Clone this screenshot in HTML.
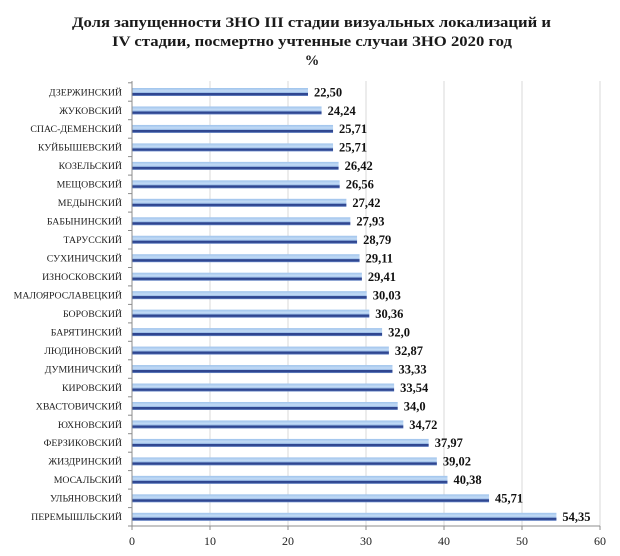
<!DOCTYPE html>
<html><head><meta charset="utf-8"><style>
html,body{margin:0;padding:0;background:#fff;}
svg{display:block;}
.t{font-family:"Liberation Serif",serif;font-weight:bold;font-size:14.5px;fill:#1a1a1a;}
.c{font-family:"Liberation Serif",serif;font-size:9.8px;fill:#222;text-anchor:end;}
.v{font-family:"Liberation Serif",serif;font-weight:bold;font-size:12.5px;fill:#111;}
.x{font-family:"Liberation Serif",serif;font-size:12px;fill:#222;text-anchor:middle;}
</style></head><body>
<svg width="620" height="556" viewBox="0 0 620 556" xmlns="http://www.w3.org/2000/svg">
<defs>
<linearGradient id="g" x1="0" y1="0" x2="0" y2="1">
<stop offset="0" stop-color="#9fc3ec"/>
<stop offset="0.4" stop-color="#c4dcf6"/>
<stop offset="0.6" stop-color="#95b8e5"/>
<stop offset="0.64" stop-color="#2f4690"/>
<stop offset="0.84" stop-color="#2f4690"/>
<stop offset="1" stop-color="#7495d3"/>
</linearGradient>
</defs>
<rect width="620" height="556" fill="#fff"/>
<text class="t" x="72" y="27" textLength="479" lengthAdjust="spacingAndGlyphs">Доля запущенности ЗНО III стадии визуальных локализаций и</text>
<text class="t" x="112" y="46" textLength="400" lengthAdjust="spacingAndGlyphs">IV стадии, посмертно учтенные случаи ЗНО 2020 год</text>
<text class="t" x="312" y="65" text-anchor="middle">%</text>

<g stroke="#d9d9d9" stroke-width="1">
<line x1="210" y1="81" x2="210" y2="526"/>
<line x1="288" y1="81" x2="288" y2="526"/>
<line x1="366" y1="81" x2="366" y2="526"/>
<line x1="444" y1="81" x2="444" y2="526"/>
<line x1="522" y1="81" x2="522" y2="526"/>
<line x1="600" y1="81" x2="600" y2="526"/>
</g>
<g stroke="#8c8c8c" stroke-width="1">
<line x1="132" y1="81" x2="132" y2="526"/>
<line x1="132" y1="526" x2="600" y2="526"/>
<line x1="132" y1="526" x2="132" y2="530"/>
<line x1="210" y1="526" x2="210" y2="530"/>
<line x1="288" y1="526" x2="288" y2="530"/>
<line x1="366" y1="526" x2="366" y2="530"/>
<line x1="444" y1="526" x2="444" y2="530"/>
<line x1="522" y1="526" x2="522" y2="530"/>
<line x1="600" y1="526" x2="600" y2="530"/>
<line x1="128" y1="82.8" x2="132" y2="82.8"/>
<line x1="128" y1="101.2" x2="132" y2="101.2"/>
<line x1="128" y1="119.7" x2="132" y2="119.7"/>
<line x1="128" y1="138.2" x2="132" y2="138.2"/>
<line x1="128" y1="156.6" x2="132" y2="156.6"/>
<line x1="128" y1="175.1" x2="132" y2="175.1"/>
<line x1="128" y1="193.6" x2="132" y2="193.6"/>
<line x1="128" y1="212.1" x2="132" y2="212.1"/>
<line x1="128" y1="230.5" x2="132" y2="230.5"/>
<line x1="128" y1="249.0" x2="132" y2="249.0"/>
<line x1="128" y1="267.5" x2="132" y2="267.5"/>
<line x1="128" y1="285.9" x2="132" y2="285.9"/>
<line x1="128" y1="304.4" x2="132" y2="304.4"/>
<line x1="128" y1="322.9" x2="132" y2="322.9"/>
<line x1="128" y1="341.3" x2="132" y2="341.3"/>
<line x1="128" y1="359.8" x2="132" y2="359.8"/>
<line x1="128" y1="378.3" x2="132" y2="378.3"/>
<line x1="128" y1="396.8" x2="132" y2="396.8"/>
<line x1="128" y1="415.2" x2="132" y2="415.2"/>
<line x1="128" y1="433.7" x2="132" y2="433.7"/>
<line x1="128" y1="452.2" x2="132" y2="452.2"/>
<line x1="128" y1="470.6" x2="132" y2="470.6"/>
<line x1="128" y1="489.1" x2="132" y2="489.1"/>
<line x1="128" y1="507.6" x2="132" y2="507.6"/>
<line x1="128" y1="526" x2="132" y2="526"/>
</g>

<g fill="url(#g)">
<rect x="132.5" y="88.0" width="175.5" height="8"/>
<rect x="132.5" y="106.47" width="189.07" height="8"/>
<rect x="132.5" y="124.94" width="200.54" height="8"/>
<rect x="132.5" y="143.41" width="200.54" height="8"/>
<rect x="132.5" y="161.88" width="206.08" height="8"/>
<rect x="132.5" y="180.35" width="207.17" height="8"/>
<rect x="132.5" y="198.82" width="213.88" height="8"/>
<rect x="132.5" y="217.29" width="217.85" height="8"/>
<rect x="132.5" y="235.76" width="224.56" height="8"/>
<rect x="132.5" y="254.23" width="227.06" height="8"/>
<rect x="132.5" y="272.7" width="229.4" height="8"/>
<rect x="132.5" y="291.17" width="234.23" height="8"/>
<rect x="132.5" y="309.64" width="236.81" height="8"/>
<rect x="132.5" y="328.11" width="249.6" height="8"/>
<rect x="132.5" y="346.58" width="256.39" height="8"/>
<rect x="132.5" y="365.05" width="259.97" height="8"/>
<rect x="132.5" y="383.52" width="261.61" height="8"/>
<rect x="132.5" y="401.99" width="265.2" height="8"/>
<rect x="132.5" y="420.46" width="270.82" height="8"/>
<rect x="132.5" y="438.93" width="296.17" height="8"/>
<rect x="132.5" y="457.4" width="304.36" height="8"/>
<rect x="132.5" y="475.87" width="314.96" height="8"/>
<rect x="132.5" y="494.34" width="356.54" height="8"/>
<rect x="132.5" y="512.81" width="423.93" height="8"/>
</g>

<g>
<text class="c" x="122" y="95.3">ДЗЕРЖИНСКИЙ</text>
<text class="c" x="122" y="113.8">ЖУКОВСКИЙ</text>
<text class="c" x="122" y="132.2">СПАС-ДЕМЕНСКИЙ</text>
<text class="c" x="122" y="150.7">КУЙБЫШЕВСКИЙ</text>
<text class="c" x="122" y="169.2">КОЗЕЛЬСКИЙ</text>
<text class="c" x="122" y="187.7">МЕЩОВСКИЙ</text>
<text class="c" x="122" y="206.1">МЕДЫНСКИЙ</text>
<text class="c" x="122" y="224.6">БАБЫНИНСКИЙ</text>
<text class="c" x="122" y="243.1">ТАРУССКИЙ</text>
<text class="c" x="122" y="261.5">СУХИНИЧСКИЙ</text>
<text class="c" x="122" y="280.0">ИЗНОСКОВСКИЙ</text>
<text class="c" x="122" y="298.5">МАЛОЯРОСЛАВЕЦКИЙ</text>
<text class="c" x="122" y="316.9">БОРОВСКИЙ</text>
<text class="c" x="122" y="335.4">БАРЯТИНСКИЙ</text>
<text class="c" x="122" y="353.9">ЛЮДИНОВСКИЙ</text>
<text class="c" x="122" y="372.4">ДУМИНИЧСКИЙ</text>
<text class="c" x="122" y="390.8">КИРОВСКИЙ</text>
<text class="c" x="122" y="409.3">ХВАСТОВИЧСКИЙ</text>
<text class="c" x="122" y="427.8">ЮХНОВСКИЙ</text>
<text class="c" x="122" y="446.2">ФЕРЗИКОВСКИЙ</text>
<text class="c" x="122" y="464.7">ЖИЗДРИНСКИЙ</text>
<text class="c" x="122" y="483.2">МОСАЛЬСКИЙ</text>
<text class="c" x="122" y="501.6">УЛЬЯНОВСКИЙ</text>
<text class="c" x="122" y="520.1">ПЕРЕМЫШЛЬСКИЙ</text>
</g>

<g>
<text class="v" x="314.0" y="96.3">22,50</text>
<text class="v" x="327.6" y="114.8">24,24</text>
<text class="v" x="339.0" y="133.2">25,71</text>
<text class="v" x="339.0" y="151.7">25,71</text>
<text class="v" x="344.6" y="170.2">26,42</text>
<text class="v" x="345.7" y="188.7">26,56</text>
<text class="v" x="352.4" y="207.1">27,42</text>
<text class="v" x="356.4" y="225.6">27,93</text>
<text class="v" x="363.1" y="244.1">28,79</text>
<text class="v" x="365.6" y="262.5">29,11</text>
<text class="v" x="367.9" y="281.0">29,41</text>
<text class="v" x="372.7" y="299.5">30,03</text>
<text class="v" x="375.3" y="317.9">30,36</text>
<text class="v" x="388.1" y="336.4">32,0</text>
<text class="v" x="394.9" y="354.9">32,87</text>
<text class="v" x="398.5" y="373.4">33,33</text>
<text class="v" x="400.1" y="391.8">33,54</text>
<text class="v" x="403.7" y="410.3">34,0</text>
<text class="v" x="409.3" y="428.8">34,72</text>
<text class="v" x="434.7" y="447.2">37,97</text>
<text class="v" x="442.9" y="465.7">39,02</text>
<text class="v" x="453.5" y="484.2">40,38</text>
<text class="v" x="495.0" y="502.6">45,71</text>
<text class="v" x="562.4" y="521.1">54,35</text>
</g>

<g>
<text class="x" x="132" y="545">0</text>
<text class="x" x="210" y="545">10</text>
<text class="x" x="288" y="545">20</text>
<text class="x" x="366" y="545">30</text>
<text class="x" x="444" y="545">40</text>
<text class="x" x="522" y="545">50</text>
<text class="x" x="600" y="545">60</text>
</g>
</svg>
</body></html>
